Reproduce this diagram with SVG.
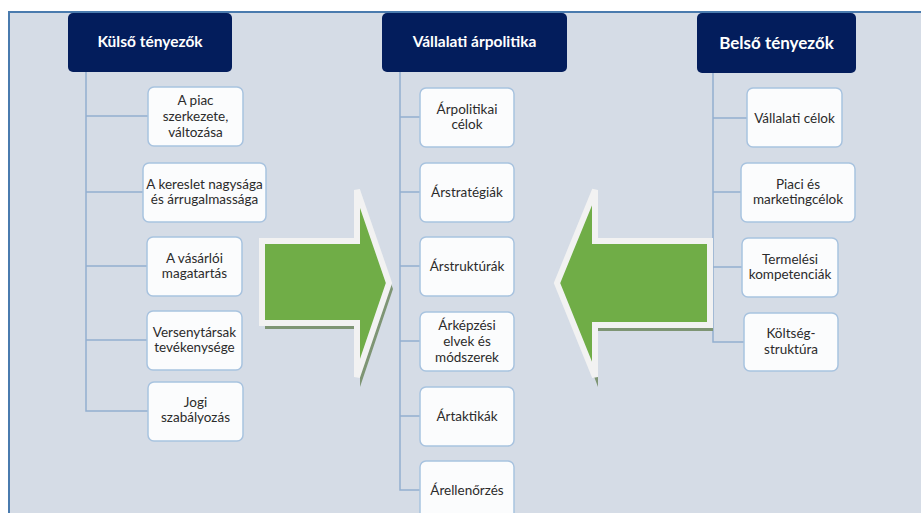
<svg xmlns="http://www.w3.org/2000/svg" width="921" height="513" viewBox="0 0 921 513">
  <style>
    .frame { fill: #d5dce6; stroke: #4a7bae; stroke-width: 2; }
    .hdr rect { fill: #031d5c; }
    .hdr text { fill: #ffffff; font-family: Lato, "Open Sans", sans-serif; font-weight: bold; font-size: 15.5px; text-anchor: middle; }
    .box rect { fill: #fbfcfd; stroke: #a8c3df; stroke-width: 1.5; }
    .box text { fill: #2b2b2b; font-family: Lato, "Open Sans", sans-serif; font-size: 13.5px; text-anchor: middle; }
    .conn { fill: none; stroke: #93afd0; stroke-width: 1.5; }
    .arrow { fill: #70ad47; stroke: #f2f2f2; stroke-width: 6; stroke-linejoin: miter; }
    .shadow { fill: #7e9574; }
  </style>

  <!-- background panel -->
  <rect class="frame" x="9" y="12" width="940" height="530"/>

  <!-- connectors -->
  <g id="connectors">
    <path class="conn" d="M86,72 V411 H148 M86,116 H148 M86,192 H143 M86,266 H147 M86,340 H147"/>
    <path class="conn" d="M400,72 V490 H420 M400,117 H420 M400,192 H420 M400,266 H420 M400,341 H420 M400,416 H420"/>
    <path class="conn" d="M713,72 V342 H744 M713,118 H747 M713,192 H741 M713,267 H742"/>
  </g>

  <!-- big arrows -->
  <g id="arrow-right">
    <polygon class="shadow" points="265,246 360,246 360,196 393,289 360,387 360,329 265,329"/>
    <polygon class="arrow" points="262,241 357,241 357,190 389,283 357,377 357,323 262,323"/>
  </g>
  <g id="arrow-left">
    <polygon class="shadow" points="713,246 598,246 598,196 561,289 598,387 598,331 713,331"/>
    <polygon class="arrow" points="710,241 595,241 595,190 557,283 595,377 595,325 710,325"/>
  </g>

  <!-- headers -->
  <g id="hdr-kulso" class="hdr">
    <rect x="68" y="13" width="164" height="59" rx="5"/>
    <text x="150" y="47">Külső tényezők</text>
  </g>
  <g id="hdr-arpolitika" class="hdr">
    <rect x="382" y="13" width="185" height="59" rx="5"/>
    <text x="474.5" y="47">Vállalati árpolitika</text>
  </g>
  <g id="hdr-belso" class="hdr">
    <rect x="697" y="13" width="159" height="60" rx="5"/>
    <text x="776.5" y="49" style="font-size:17px">Belső tényezők</text>
  </g>

  <!-- external factors -->
  <g id="k1" class="box">
    <rect x="148" y="87" width="95" height="59" rx="6"/>
    <text x="195.5" y="104.5">A piac</text>
    <text x="195.5" y="120.5">szerkezete,</text>
    <text x="195.5" y="136.5">változása</text>
  </g>
  <g id="k2" class="box">
    <rect x="143" y="163" width="123" height="59" rx="6"/>
    <text x="204.5" y="189">A kereslet nagysága</text>
    <text x="204.5" y="204">és árrugalmassága</text>
  </g>
  <g id="k3" class="box">
    <rect x="147" y="237" width="95" height="59" rx="6"/>
    <text x="194.5" y="263">A vásárlói</text>
    <text x="194.5" y="278">magatartás</text>
  </g>
  <g id="k4" class="box">
    <rect x="147" y="311" width="95" height="59" rx="6"/>
    <text x="194.5" y="337">Versenytársak</text>
    <text x="194.5" y="352">tevékenysége</text>
  </g>
  <g id="k5" class="box">
    <rect x="148" y="382" width="95" height="59" rx="6"/>
    <text x="195.5" y="407">Jogi</text>
    <text x="195.5" y="422">szabályozás</text>
  </g>

  <!-- pricing policy elements -->
  <g id="a1" class="box">
    <rect x="420" y="88" width="94" height="59" rx="6"/>
    <text x="467" y="114">Árpolitikai</text>
    <text x="467" y="129">célok</text>
  </g>
  <g id="a2" class="box">
    <rect x="420" y="163" width="94" height="59" rx="6"/>
    <text x="467" y="197">Árstratégiák</text>
  </g>
  <g id="a3" class="box">
    <rect x="420" y="237" width="94" height="59" rx="6"/>
    <text x="467" y="271">Árstruktúrák</text>
  </g>
  <g id="a4" class="box">
    <rect x="420" y="312" width="94" height="59" rx="6"/>
    <text x="467" y="330">Árképzési</text>
    <text x="467" y="346">elvek és</text>
    <text x="467" y="362">módszerek</text>
  </g>
  <g id="a5" class="box">
    <rect x="420" y="387" width="94" height="59" rx="6"/>
    <text x="467" y="421">Ártaktikák</text>
  </g>
  <g id="a6" class="box">
    <rect x="420" y="461" width="94" height="59" rx="6"/>
    <text x="467" y="495">Árellenőrzés</text>
  </g>

  <!-- internal factors -->
  <g id="b1" class="box">
    <rect x="747" y="88" width="95" height="59" rx="6"/>
    <text x="794.5" y="123">Vállalati célok</text>
  </g>
  <g id="b2" class="box">
    <rect x="741" y="163" width="114" height="59" rx="6"/>
    <text x="798" y="189">Piaci és</text>
    <text x="798" y="204">marketingcélok</text>
  </g>
  <g id="b3" class="box">
    <rect x="742" y="238" width="96" height="59" rx="6"/>
    <text x="790" y="264">Termelési</text>
    <text x="790" y="279">kompetenciák</text>
  </g>
  <g id="b4" class="box">
    <rect x="744" y="313" width="94" height="58" rx="6"/>
    <text x="791" y="338">Költség-</text>
    <text x="791" y="354">struktúra</text>
  </g>
</svg>
